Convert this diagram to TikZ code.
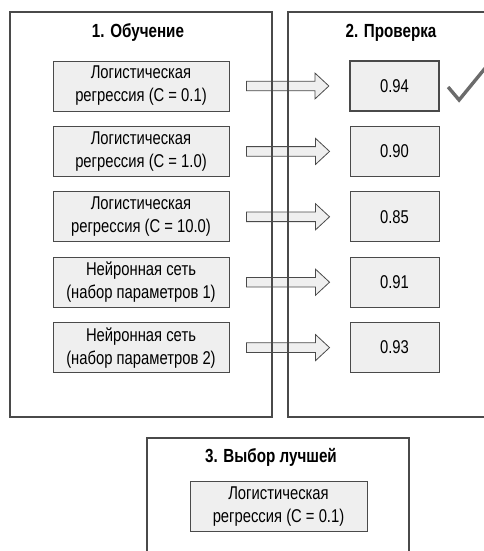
\documentclass[tikz,border=0pt]{standalone}
\usepackage{fontspec}
\setmainfont{Liberation Sans}[FakeStretch=0.8]
\usepackage{tikz}
\usetikzlibrary{calc,backgrounds}
\definecolor{linegray}{HTML}{4A4A4A}
\definecolor{boxgray}{HTML}{EFEFEF}
\definecolor{tickgray}{HTML}{6B6B6B}

\begin{document}
\begin{tikzpicture}[x=1pt,y=-1pt,font=\fontsize{18.5}{23}\selectfont]
            \tikzstyle{panel}=[draw=linegray,line width=1.2pt,inner sep=0pt]
            \tikzstyle{title}=[font=\fontsize{19}{22}\selectfont\bfseries]
            \tikzstyle{model}=[draw=linegray,fill=boxgray,line width=0.9pt,align=center,
                minimum width=176pt,minimum height=50pt,inner sep=0pt]
            \tikzstyle{score}=[draw=linegray,fill=boxgray,line width=0.9pt,
                minimum width=89pt,minimum height=50pt,inner sep=0pt]
            \tikzstyle{bigarrow}=[draw=linegray,fill=boxgray,line width=0.8pt,line join=miter]
            \useasboundingbox (0,0) rectangle (484,551);
            % panels
            \node[panel,minimum width=262pt,minimum height=405pt] (train) at (141,214.5) {};
            \node[panel,minimum width=210pt,minimum height=405pt] (valid) at (393,214.5) {};
            \node[panel,minimum width=262pt,minimum height=140pt] (best)  at (278,508) {};
            \node[title] (ttrain) at (138,33) {1. Обучение};
            \node[title] (tvalid) at (391,33) {2. Проверка};
            \node[title] (tbest)  at (271,457) {3. Выбор лучшей};
            % models and scores
            \node[model] (l1) at (141,86)    {Логистическая\\регрессия (C = 0.1)};
            \node[model] (l2) at (141,151.4) {Логистическая\\регрессия (C = 1.0)};
            \node[model] (l3) at (141,216.8) {Логистическая\\регрессия (C = 10.0)};
            \node[model] (l4) at (141,282.2) {Нейронная сеть\\(набор параметров 1)};
            \node[model] (l5) at (141,347.6) {Нейронная сеть\\(набор параметров 2)};
            \node[score,line width=2.2pt] (r1) at (394.5,86) {0.94};
            \node[score] (r2) at (394.5,151.4) {0.90};
            \node[score] (r3) at (394.5,216.8) {0.85};
            \node[score] (r4) at (394.5,282.2) {0.91};
            \node[score] (r5) at (394.5,347.6) {0.93};
            \node[model,minimum width=177pt] (winner) at (278.5,506.5) {Логистическая\\регрессия (C = 0.1)};
            % arrows behind the panel lines
            \begin{scope}[on background layer]
            \foreach \i in {1,...,5}
                \draw[bigarrow] ($(l\i.east)+(17,-4.8)$) -- ($(r\i.west)+(-34,-4.8)$)
                    -- ($(r\i.west)+(-34,-13)$) -- ($(r\i.west)+(-20,0)$)
                    -- ($(r\i.west)+(-34,13)$) -- ($(r\i.west)+(-34,4.8)$)
                    -- ($(l\i.east)+(17,4.8)$) -- cycle;
            \end{scope}
            % tick for the best score
            \draw[tickgray,line width=3.4pt] ($(r1.east)+(8,1)$) -- ($(r1.east)+(19,14)$) -- ($(r1.east)+(46,-19)$);
        \end{tikzpicture}
\end{document}
